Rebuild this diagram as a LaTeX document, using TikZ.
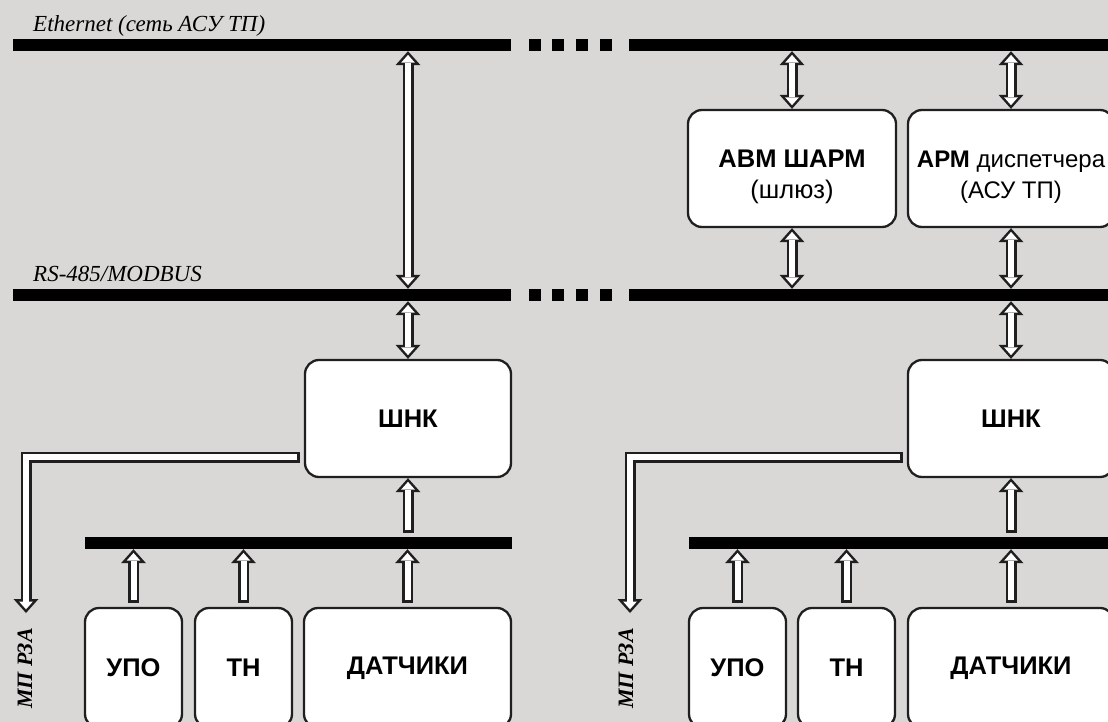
\documentclass[tikz,border=0pt]{standalone}
\usepackage{fontspec}
\setmainfont{Liberation Serif}
\setsansfont{Liberation Sans}
\usetikzlibrary{arrows.meta}
\definecolor{bggray}{RGB}{217,216,214}
\tikzset{
  bus/.style={fill=black, inner sep=0pt, minimum height=12pt, anchor=west},
  busdot/.style={fill=black, inner sep=0pt, minimum size=12pt, anchor=west},
  blok/.style={draw=black!88, line width=2.3pt, fill=white, rounded corners=14pt,
    inner sep=0pt, font=\sffamily\fontsize{25.5}{31}\selectfont, align=center},
  buslabel/.style={font=\itshape\fontsize{23}{27}\selectfont, anchor=base west, inner sep=0pt},
  rza/.style={font=\bfseries\itshape\fontsize{22}{26}\selectfont, rotate=90, anchor=east, inner sep=0pt},
  fat outer/.style={draw=black!88, line width=11pt, line join=miter},
  fat inner/.style={draw=white, line width=6pt, line join=miter},
  otip/.tip={Triangle[length=14pt,width=25pt,line width=0pt]},
  itip/.tip={Triangle[length=7.8pt,width=13.8pt,line width=0pt]},
  fat end outer/.style={-{otip}, shorten <=4pt},
  fat end inner/.style={-{itip}, shorten <=6.5pt, shorten >=3.7pt},
  fat both outer/.style={{otip}-{otip}},
  fat both inner/.style={{itip}-{itip}, shorten <=3.7pt, shorten >=3.7pt},
}
\newcommand\fatarrow[2]{%
  \draw[fat outer, fat #1 outer] #2;
  \draw[fat inner, fat #1 inner] #2;}
\newcommand\twoline[2]{%
  \raisebox{-8pt}[\height][\depth]{\begin{tabular}{@{}c@{}}#1\\#2\end{tabular}}}

\begin{document}
\begin{tikzpicture}[x=1pt, y=-1pt]
  \clip (0,0) rectangle (1108,722);
  \fill[bggray] (0,0) rectangle (1108,722);

  % buses
  \node[bus, minimum width=498pt] (ethL) at (13,45) {};
  \node[bus, minimum width=486pt] (ethR) at (629,45) {};
  \node[bus, minimum width=498pt] (rsL) at (13,295) {};
  \node[bus, minimum width=486pt] (rsR) at (629,295) {};
  \foreach \x in {529,552,576,600} {
    \node[busdot] at (\x,45) {};
    \node[busdot] at (\x,295) {};
  }
  \node[bus, minimum width=427pt] (lbusL) at (85,543) {};
  \node[bus, minimum width=426pt] (lbusR) at (689,543) {};

  \node[buslabel] (ethlbl) at (33,32) {Ethernet (сеть АСУ ТП)};
  \node[buslabel] (rslbl) at (33,281) {RS-485/MODBUS};

  % blocks
  \node[blok, minimum width=208pt, minimum height=117pt] (avm) at (792,168.5)
    {\twoline{\bfseries АВМ ШАРМ}{(шлюз)}};
  \node[blok, minimum width=206pt, minimum height=117pt, font=\sffamily\fontsize{24}{31}\selectfont]
    (arm) at (1011,168.5) {\twoline{\bfseries АРМ \mdseries диспетчера}{(АСУ ТП)}};
  \node[blok, minimum width=206pt, minimum height=117pt] (shnkL) at (408,418.5) {\bfseries ШНК};
  \node[blok, minimum width=206pt, minimum height=117pt] (shnkR) at (1011,418.5) {\bfseries ШНК};

  \node[blok, minimum width=97pt, minimum height=120pt] (upoL) at (133.5,668) {\bfseries УПО};
  \node[blok, minimum width=97pt, minimum height=120pt] (tnL) at (243.5,668) {\bfseries ТН};
  \node[blok, minimum width=207pt, minimum height=120pt] (datL) at (407.5,668) {\bfseries ДАТЧИКИ};
  \node[blok, minimum width=97pt, minimum height=120pt] (upoR) at (737.5,668) {\bfseries УПО};
  \node[blok, minimum width=97pt, minimum height=120pt] (tnR) at (846.5,668) {\bfseries ТН};
  \node[blok, minimum width=206pt, minimum height=120pt] (datR) at (1011,668) {\bfseries ДАТЧИКИ};

  \node[rza] (mpL) at (25,628) {МП РЗА};
  \node[rza] (mpR) at (626,628) {МП РЗА};
  \coordinate (rzaL) at (26,613);
  \coordinate (rzaR) at (630,613);

  % left part
  \fatarrow{both}{(shnkL.north |- ethL.south) -- (shnkL.north |- rsL.north)}
  \fatarrow{both}{(shnkL.north |- rsL.south) -- (shnkL.north)}
  \fatarrow{end}{(shnkL.south |- lbusL.north) -- (shnkL.south)}
  \fatarrow{end}{(upoL.north) -- (upoL.north |- lbusL.south)}
  \fatarrow{end}{(tnL.north) -- (tnL.north |- lbusL.south)}
  \fatarrow{end}{(datL.north) -- (datL.north |- lbusL.south)}
  \fatarrow{end}{([yshift=-38.5pt]shnkL.west) -| (rzaL)}

  % right part
  \fatarrow{both}{(avm.north |- ethR.south) -- (avm.north)}
  \fatarrow{both}{(avm.south) -- (avm.south |- rsR.north)}
  \fatarrow{both}{(arm.north |- ethR.south) -- (arm.north)}
  \fatarrow{both}{(arm.south) -- (arm.south |- rsR.north)}
  \fatarrow{both}{(shnkR.north |- rsR.south) -- (shnkR.north)}
  \fatarrow{end}{(shnkR.south |- lbusR.north) -- (shnkR.south)}
  \fatarrow{end}{(upoR.north) -- (upoR.north |- lbusR.south)}
  \fatarrow{end}{(tnR.north) -- (tnR.north |- lbusR.south)}
  \fatarrow{end}{(datR.north) -- (datR.north |- lbusR.south)}
  \fatarrow{end}{([yshift=-38.5pt]shnkR.west) -| (rzaR)}
\end{tikzpicture}
\end{document}
